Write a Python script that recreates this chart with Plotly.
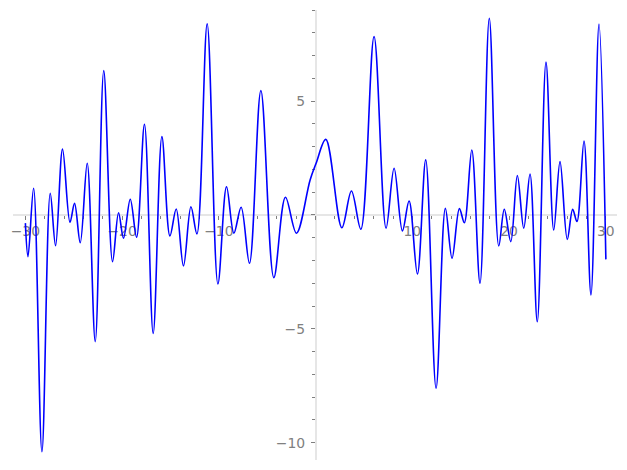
import plotly.graph_objects as go

# values (local extrema of the curve)
x_vals = [-30.0, -29.73, -29.15, -28.29, -27.43, -26.88, -26.16, -25.39, -24.92, -24.33,
          -23.61, -22.78, -21.90, -20.99, -20.37, -19.86, -19.16, -18.51, -17.69, -16.79,
          -15.89, -15.06, -14.41, -13.66, -12.89, -12.27, -11.21, -10.10, -9.21, -8.45,
          -7.70, -6.84, -5.66, -4.32, -3.12, -1.98, -0.57, 0.05, 1.05, 2.71,
          3.70, 4.67, 6.04, 7.28, 8.11, 8.97, 9.66, 10.52, 11.38, 12.45,
          13.41, 14.10, 14.86, 15.37, 16.14, 16.99, 17.95, 18.93, 19.50, 20.17,
          20.85, 21.51, 22.16, 22.91, 23.81, 24.61, 25.26, 26.01, 26.57, 27.01,
          27.74, 28.46, 29.29, 30.0]
y_vals = [-0.36, -1.83, 1.17, -10.40, 0.95, -1.35, 2.89, -0.32, 0.51, -1.22,
          2.27, -5.56, 6.34, -2.05, 0.10, -1.02, 0.69, -0.98, 3.98, -5.20,
          3.44, -0.92, 0.26, -2.24, 0.36, -0.83, 8.39, -3.03, 1.24, -0.80,
          0.34, -2.12, 5.46, -2.75, 0.78, -0.80, 1.54, 2.27, 3.32, -0.56,
          1.05, -0.63, 7.83, -0.58, 2.05, -0.70, 0.61, -2.59, 2.42, -7.61,
          0.29, -1.90, 0.28, -0.34, 2.85, -3.00, 8.64, -1.36, 0.25, -1.17,
          1.73, -0.58, 1.80, -4.69, 6.71, -0.66, 2.34, -1.07, 0.25, -0.29,
          3.25, -3.51, 8.38, -1.95]

x_ticks = [-30, -20, -10, 0, 10, 20, 30]
x_labels = ["\u221230", "\u221220", "\u221210", "", "10", "20", "30"]
y_ticks = [-10, -5, 0, 5]
y_labels = ["\u221210", "\u22125", "", "5"]

x_range = [-31.28, 31.15]
y_range = [-10.76, 9.0]

fig = go.Figure(go.Scatter(
    x=x_vals, y=y_vals, mode="lines",
    line=dict(color="#0000ff", width=1.6, shape="spline", smoothing=1),
))

axis_style = dict(
    showgrid=False, zeroline=False, showline=True, automargin=False,
    linecolor="#e6e6e6", linewidth=1.5, layer="below traces",
    ticks="outside", ticklen=4, tickwidth=1, tickcolor="#7f7f7f",
    tickfont=dict(family="DejaVu Sans", size=13.9, color="#808080"),
    anchor="free",
)

# page body keeps its 8px default margin, so left/top margins are trimmed
fig.update_layout(
    width=627, height=470,
    paper_bgcolor="white", plot_bgcolor="white",
    margin=dict(l=5, r=18, t=2, b=18),
    showlegend=False,
    xaxis=dict(
        range=x_range, tickmode="array", tickvals=x_ticks, ticktext=x_labels,
        position=(0 - y_range[0]) / (y_range[1] - y_range[0]),
        minor=dict(dtick=2, tick0=0, ticks="outside", ticklen=3, tickcolor="#7f7f7f"),
        **axis_style,
    ),
    yaxis=dict(
        range=y_range, tickmode="array", tickvals=y_ticks, ticktext=y_labels,
        position=(0 - x_range[0]) / (x_range[1] - x_range[0]),
        minor=dict(dtick=1, tick0=0, ticks="outside", ticklen=3, tickcolor="#7f7f7f"),
        ticklabelstandoff=3,
        **axis_style,
    ),
)

fig.write_html("out.html")
